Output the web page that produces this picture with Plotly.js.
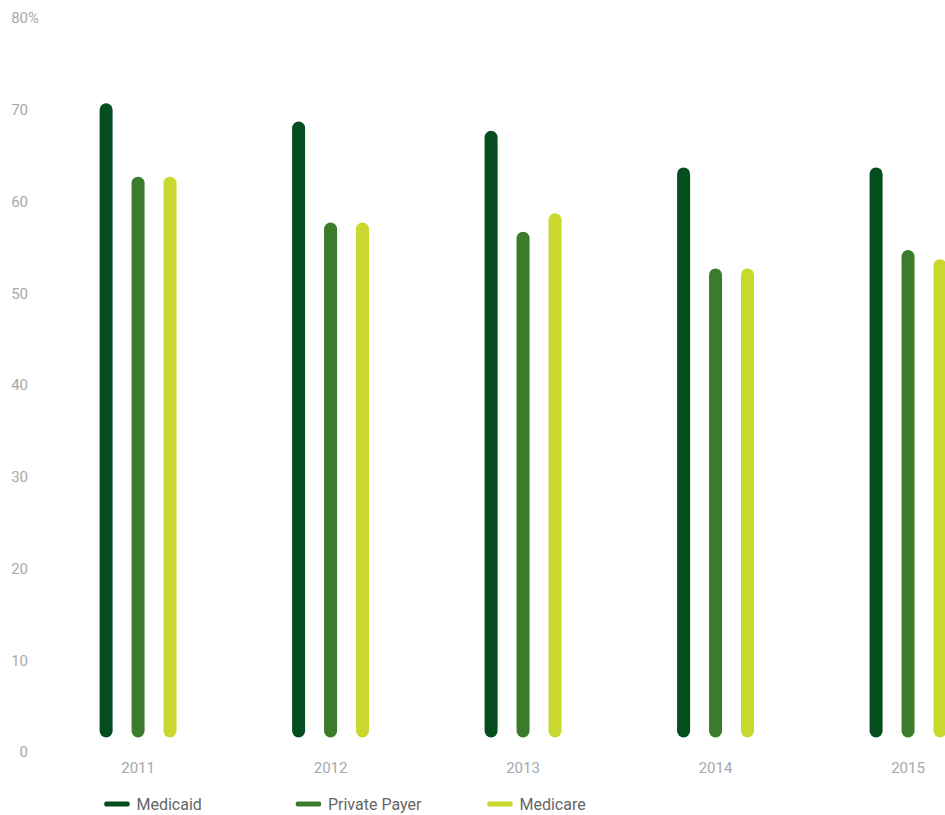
<!DOCTYPE html>
<html>
<head>
<meta charset="utf-8">
<script src="https://cdn.plot.ly/plotly-3.0.1.min.js"></script>
<style>
html,body{margin:0;padding:0;background:#fff;}
#chart{width:945px;height:815px;}
path.js-line{stroke-linecap:round !important;}
.legendlines path{transform:translate(5.83px,0) scale(0.733,1);}
</style>
</head>
<body>
<div id="chart"></div>
<script>
const years = [2011, 2012, 2013, 2014, 2015];
const medicaid = [70, 68, 67, 63, 63];
const privatePayer = [62, 57, 56, 52, 54];
const medicare = [62, 57, 58, 52, 53];
const seriesNames = ['Medicaid', 'Private Payer', 'Medicare'];
const seriesColors = ['#044d1f', '#3a7b2c', '#c8d82f'];
const yTickVals = [0, 10, 20, 30, 40, 50, 60, 70, 80];
const yTickText = ['0', '10', '20', '30', '40', '50', '60', '70', '80'];

const BASE = 2.3;          // visual start of the rounded bars
const OFFSETS = [-0.166, 0, 0.166];
const BAR_W = 13;

function barTrace(vals, k) {
  const x = [], y = [];
  years.forEach((yr, i) => {
    x.push(yr + OFFSETS[k], yr + OFFSETS[k], null);
    y.push(BASE, vals[i], null);
  });
  return {
    type: 'scatter', mode: 'lines', x: x, y: y,
    line: {color: seriesColors[k], width: BAR_W},
    showlegend: false, hoverinfo: 'skip', connectgaps: false
  };
}
const all = [medicaid, privatePayer, medicare];
const traces = all.map((v, k) => barTrace(v, k));
seriesNames.forEach((n, k) => {
  traces.push({
    type: 'scatter', mode: 'lines', x: [null], y: [null], name: n,
    line: {color: seriesColors[k], width: 5}, showlegend: true
  });
});

const layout = {
  width: 945, height: 815,
  margin: {l: 32, r: 0, t: 18, b: 63, autoexpand: false},
  paper_bgcolor: '#fff', plot_bgcolor: '#fff',
  font: {family: 'Roboto, "Open Sans", sans-serif', color: '#999'},
  showlegend: true,
  xaxis: {
    range: [2010.449, 2015.192], showgrid: false, zeroline: false, showline: false,
    tickvals: years, ticktext: years.map(String), ticks: '', ticklabelstandoff: 5,
    tickfont: {size: 15, color: '#a8a8a8'}, fixedrange: true
  },
  yaxis: {
    range: [0, 80], showgrid: false, zeroline: false, showline: false,
    tickvals: yTickVals, ticktext: yTickText, ticks: '', ticklabelstandoff: 3,
    tickfont: {size: 15, color: '#a8a8a8'}, fixedrange: true
  },
  legend: {
    orientation: 'h', yref: 'container', x: 0.0706, xanchor: 'left', y: 0.0135, yanchor: 'middle',
    entrywidth: 146.5, entrywidthmode: 'pixels',
    font: {size: 16, color: '#666'}, bgcolor: 'rgba(0,0,0,0)'
  },
  annotations: [{
    xref: 'paper', yref: 'y', x: -0.0062, y: 80, xanchor: 'left', yanchor: 'middle',
    text: '%', showarrow: false, font: {size: 15, color: '#a8a8a8'}
  }]
};
Plotly.newPlot('chart', traces, layout, {displayModeBar: false, staticPlot: true});
</script>
</body>
</html>
